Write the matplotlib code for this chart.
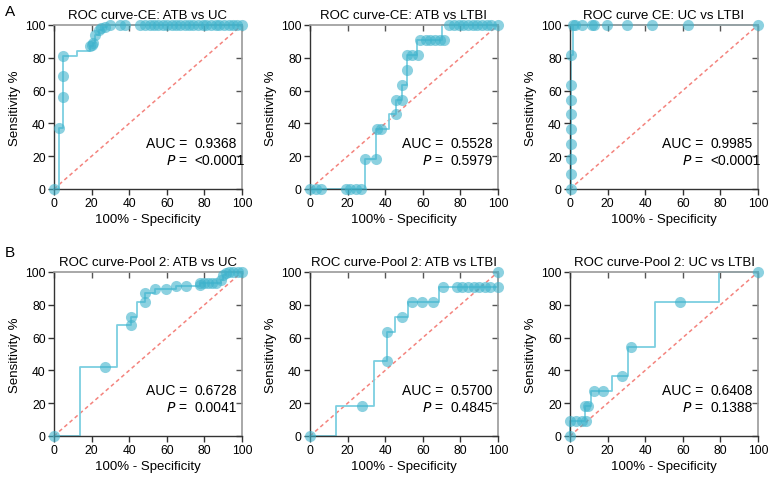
import numpy as np
import matplotlib.pyplot as plt

plt.rcParams['font.family'] = ['Liberation Sans', 'DejaVu Sans']

titles = ['ROC curve-CE: ATB vs UC', 'ROC curve-CE: ATB vs LTBI', 'ROC curve CE: UC vs LTBI',
          'ROC curve-Pool 2: ATB vs UC', 'ROC curve-Pool 2: ATB vs LTBI', 'ROC curve-Pool 2: UC vs LTBI']
auc = ['0.9368', '0.5528', '0.9985', '0.6728', '0.5700', '0.6408']
pval = ['<0.0001', '0.5979', '<0.0001', '0.0041', '0.4845', '0.1388']

# step curves (x = 100% - specificity, y = sensitivity)
line_x = [
    [0, 2.5, 5, 12, 19, 21, 22, 24, 26, 28, 100],
    [0, 29, 35, 42, 46, 49, 51.5, 57, 70, 100],
    [0, 0.3, 1.5, 100],
    [0, 14, 33.5, 40.8, 44.3, 48.6, 53.9, 65, 77.8, 89, 90, 91.7, 100],
    [0, 13.7, 33.8, 41, 45, 52, 68.5, 100],
    [0, 0, 8, 11, 22.5, 31, 45, 79, 100],
]
line_y = [
    [0, 37, 81, 84, 87, 89, 94, 97, 99, 100, 100],
    [0, 18.2, 36.4, 45.5, 54.5, 63.6, 81.8, 90.9, 100, 100],
    [0, 81.8, 100, 100],
    [0, 42.3, 67.6, 72.3, 82, 87, 89.9, 91.5, 93.5, 95, 98, 100, 100],
    [0, 18.2, 45.5, 63.6, 72.7, 81.8, 90.9, 100],
    [0, 9.1, 18.2, 27.3, 36.4, 54.5, 81.8, 100, 100],
]

# plotted threshold points
pt_x = [
    [0, 2.5, 5, 5, 5, 19, 20, 21, 22, 24, 25, 27, 30, 35, 38,
     46, 48.5, 51, 53, 55.5, 58, 60, 62.5, 65, 67, 69.5, 72, 74, 76.5, 79, 81, 83.5, 86, 88, 90.5, 93, 95, 97.5, 100],
    [0, 3, 6, 19, 21.5, 24.5, 27, 29.5, 35, 35.5, 38, 46, 46, 49, 49, 51.5, 51.5, 54.5, 57.5,
     58.5, 61.5, 64, 66.5, 69, 71.5, 74, 76.5, 79, 81.5, 84, 86.5, 89, 91.5, 94, 96.5, 100],
    [0.3, 0.3, 0.3, 0.3, 0.3, 0.3, 0.3, 0.3, 0.3, 1.5, 2.5, 6.5, 11.5, 13, 19.5, 30.5, 43.5, 63, 100],
    [0, 27, 40.8, 40.8, 48.6, 48.6, 53.9, 59.4, 65, 70, 77.8, 77.8, 80, 82, 84, 86, 89, 90, 91.7, 93, 95.2, 98, 100],
    [0, 27.6, 41, 41, 49, 54, 59.6, 65.3, 70.8, 78, 81, 84, 87, 90, 93, 96, 100, 100],
    [0, 0, 3, 6.6, 8.3, 7.8, 9.6, 12.8, 17.7, 27.5, 32.3, 58.3, 100],
]
pt_y = [
    [0, 37, 56, 69, 81, 87, 88, 89, 94, 97, 98, 99, 100, 100, 100,
     100, 100, 100, 100, 100, 100, 100, 100, 100, 100, 100, 100, 100, 100, 100, 100, 100, 100, 100, 100, 100, 100, 100, 100],
    [0, 0, 0, 0, 0, 0, 0, 18.2, 18.2, 36.4, 36.4, 45.5, 54.5, 54.5, 63.6, 72.7, 81.8, 81.8, 81.8,
     90.9, 90.9, 90.9, 90.9, 90.9, 90.9, 100, 100, 100, 100, 100, 100, 100, 100, 100, 100, 100],
    [0, 9.1, 18.2, 27.3, 36.4, 45.5, 54.5, 63.6, 81.8, 100, 100, 100, 100, 100, 100, 100, 100, 100, 100],
    [0, 42.3, 67.6, 72.3, 82, 87, 89.9, 89.9, 91.5, 91.5, 92, 93.5, 93.5, 93.5, 93.5, 93.5, 95, 98, 99.6, 100, 100, 100, 100],
    [0, 18.2, 45.5, 63.6, 72.7, 81.8, 81.8, 81.8, 90.9, 90.9, 90.9, 90.9, 90.9, 90.9, 90.9, 90.9, 90.9, 100],
    [0, 9.1, 9.1, 9.1, 9.1, 18.2, 18.2, 27.3, 27.3, 36.4, 54.5, 81.8, 100],
]

fig = plt.figure(figsize=(7.71, 4.81), dpi=100)
lefts = [54 / 771, 310 / 771, 570 / 771]
bottoms = [1 - 190 / 481, 1 - 437 / 481]
w = 188 / 771
h = 164 / 481

for i in range(6):
    r, c = divmod(i, 3)
    ax = fig.add_axes([lefts[c], bottoms[r], w, h])
    ax.plot([0, 100], [0, 100], ls=(0, (2.5, 2)), color='#f4837d', lw=1.1, zorder=1)
    ax.step(line_x[i], line_y[i], where='post', color='#7ccfe0', lw=1.3, zorder=2, clip_on=False)
    ax.plot(pt_x[i], pt_y[i], 'o', ms=8, color='#3fb3cc', alpha=0.6, mec='none', zorder=3, clip_on=False)
    ax.set_xlim(0, 100)
    ax.set_ylim(0, 100)
    ax.set_xticks(np.arange(0, 101, 20))
    ax.set_yticks(np.arange(0, 101, 20))
    ax.tick_params(labelsize=8.7, length=4.5, width=1, color='#333333', pad=1.5)
    ax.tick_params(top=True, right=True, which='both')
    for side in ['left', 'bottom']:
        ax.spines[side].set_color('#333333')
        ax.spines[side].set_linewidth(1)
    for side in ['top', 'right']:
        ax.spines[side].set_color('#999999')
        ax.spines[side].set_linewidth(1.2)
    ax.xaxis.set_tick_params(which='major', direction='out')
    ax.yaxis.set_tick_params(which='major', direction='out')
    # mirrored ticks point inward
    for t in ax.xaxis.get_major_ticks():
        t.tick2line.set_marker(3)
        t.tick2line.set_markeredgecolor('#555555')
    for t in ax.yaxis.get_major_ticks():
        t.tick2line.set_marker(0)
        t.tick2line.set_markeredgecolor('#555555')
    ax.set_title(titles[i], fontsize=9.5, pad=5)
    ax.set_xlabel('100% - Specificity', fontsize=9.5, labelpad=3)
    ax.set_ylabel('Sensitivity %', fontsize=9.5, labelpad=3)
    ax.text(71, 28, 'AUC =', fontsize=10, ha='right', va='center')
    ax.text(74.5, 28, auc[i], fontsize=10, ha='left', va='center')
    ax.text(71, 17.5, '$\\it{P}$ =', fontsize=10, ha='right', va='center')
    ax.text(74.5, 17.5, pval[i], fontsize=10, ha='left', va='center')

fig.text(5 / 771, 1 - 12 / 481, 'A', fontsize=11, va='center')
fig.text(5 / 771, 1 - 253 / 481, 'B', fontsize=11, va='center')

plt.savefig('out.png', dpi=100)
